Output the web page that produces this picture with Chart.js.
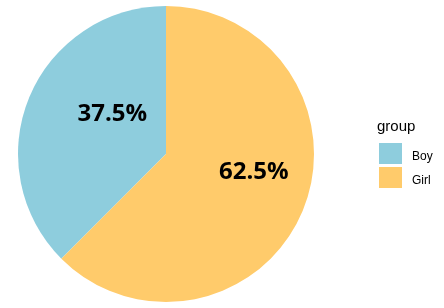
<!DOCTYPE html>
<html>
<head>
<meta charset="utf-8">
<script src="https://cdn.jsdelivr.net/npm/chart.js@4/dist/chart.umd.min.js"></script>
<style>
  html, body { margin: 0; padding: 0; background: #fff; }
  canvas { display: block; }
</style>
</head>
<body>
<canvas id="myChart" width="444" height="308"></canvas>
<script>
const categories = ['Boy', 'Girl'];
const shares = [37.5, 62.5];
const legendTitle = 'group';
const sliceColors = ['#8ECDDD', '#FFCB6B'];

// where each percent label sits: angle clockwise from top (deg), and fraction of the radius
const labelSpots = [
    { angle: 307, r: 0.454 },
    { angle: 101, r: 0.605 }
];

const pieLabels = {
    id: 'pieLabels',
    afterDatasetsDraw(chart) {
        const ctx = chart.ctx;
        const arcs = chart.getDatasetMeta(0).data;
        ctx.save();
        ctx.fillStyle = '#000';
        ctx.font = 'bold 24px "Open Sans"';
        ctx.textAlign = 'center';
        ctx.textBaseline = 'middle';
        arcs.forEach((arc, i) => {
            const spot = labelSpots[i];
            const a = spot.angle * Math.PI / 180;
            const dist = arc.outerRadius * spot.r;
            const x = arc.x + Math.sin(a) * dist;
            const y = arc.y - Math.cos(a) * dist;
            ctx.fillText(shares[i].toFixed(1) + '%', x, y + 1);
        });
        ctx.restore();
    }
};

const sideLegend = {
    id: 'sideLegend',
    afterDraw(chart) {
        const ctx = chart.ctx;
        ctx.save();
        ctx.fillStyle = '#000';
        ctx.font = '15px "Liberation Sans", Arial, sans-serif';
        ctx.textAlign = 'left';
        ctx.textBaseline = 'alphabetic';
        ctx.fillText(legendTitle, 377, 131);
        ctx.font = '12px "Liberation Sans", Arial, sans-serif';
        chart.data.labels.forEach((label, i) => {
            const top = 143 + i * 24;
            ctx.fillStyle = chart.data.datasets[0].backgroundColor[i];
            ctx.fillRect(379, top, 23, 21);
            ctx.fillStyle = '#000';
            ctx.fillText(label, 412, top + 17);
        });
        ctx.restore();
    }
};

new Chart(document.getElementById('myChart').getContext('2d'), {
    type: 'pie',
    data: {
        labels: categories,
        datasets: [{
            data: shares,
            backgroundColor: sliceColors,
            borderWidth: 0,
            hoverOffset: 0
        }]
    },
    options: {
        responsive: false,
        animation: false,
        devicePixelRatio: 1,
        rotation: -135,
        layout: { padding: { left: 18, right: 130, top: 6, bottom: 6 } },
        plugins: {
            legend: { display: false },
            tooltip: { enabled: false }
        }
    },
    plugins: [pieLabels, sideLegend]
});
</script>
</body>
</html>
